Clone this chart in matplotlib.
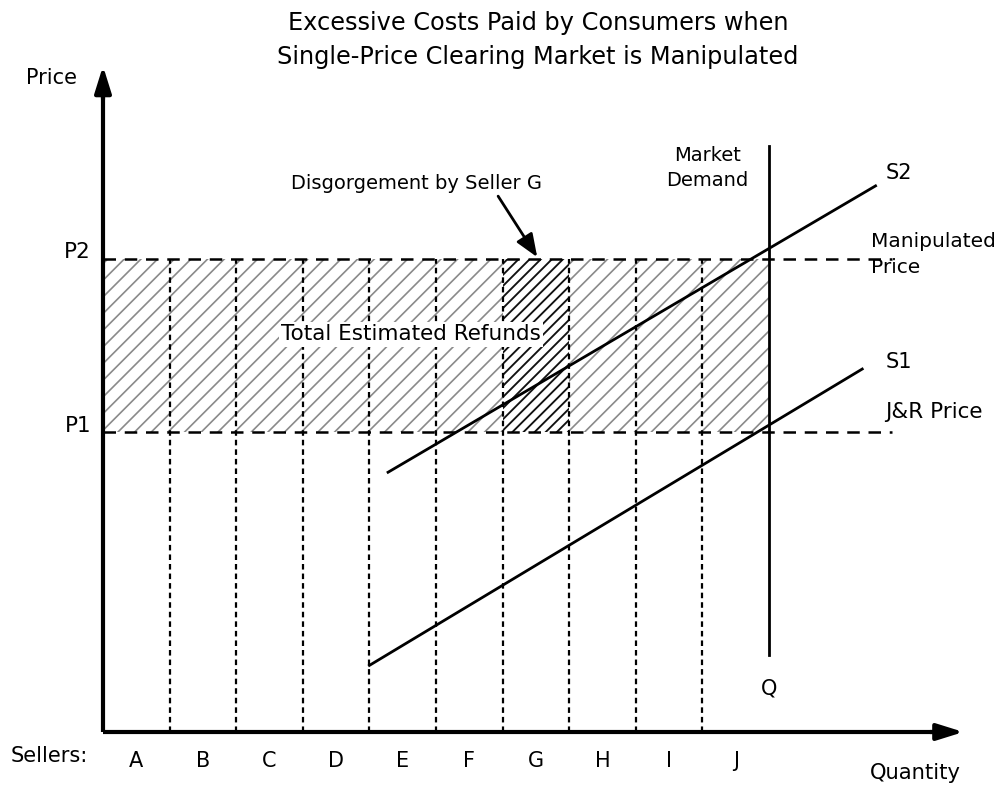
import numpy as np
import matplotlib
matplotlib.use("Agg")
import matplotlib.pyplot as plt
import matplotlib.patches as ptchs

plt.rcParams['font.family'] = ['DejaVu Sans']

# seller blocks along the quantity axis (one unit each)
sellers = ['A', 'B', 'C', 'D', 'E', 'F', 'G', 'H', 'I', 'J']
seller_width = 1.0
target_seller = 'G'

# prices and quantities (in chart units)
p1 = 4.5
p2 = 7.1
q_demand = 10.0
demand_low, demand_high = 1.15, 8.8
price_line_end = 11.85

# supply curves: quantity / price end points
s1_q = [4.0, 11.4]
s1_p = [1.0, 5.45]
s2_q = [4.28, 11.6]
s2_p = [3.9, 8.2]

x_axis_end = 12.92
y_axis_end = 10.0

PX = 66.6  # pixels per unit
W, H = 996, 787
x0_px, y0_px = 103, 732

fig = plt.figure(figsize=(W / 100, H / 100), dpi=100)
ax = fig.add_axes([0, 0, 1, 1])
ax.set_xlim(-x0_px / PX, (W - x0_px) / PX)
ax.set_ylim(-(H - y0_px) / PX, y0_px / PX)
ax.axis('off')

n = len(sellers)
edges = np.arange(n + 1) * seller_width
centers = edges[:-1] + seller_width / 2

# total refunds hatched area
with plt.rc_context({'hatch.linewidth': 1.2}):
    ax.add_patch(ptchs.Rectangle((0, p1), n * seller_width, p2 - p1,
                                 facecolor='white', edgecolor='#8a8a8a',
                                 hatch='//', linewidth=0, zorder=1))
# disgorgement by seller G
gi = sellers.index(target_seller)
with plt.rc_context({'hatch.linewidth': 1.35}):
    ax.add_patch(ptchs.Rectangle((edges[gi], p1), seller_width, p2 - p1,
                                 facecolor='white', edgecolor='#111111',
                                 hatch='///', linewidth=0, zorder=2))

# seller boundaries
for e in edges[1:-1]:
    ax.plot([e, e], [0, p2], color='black', lw=1.6, ls=(0, (2.5, 1.8)), zorder=3)

# price levels
for p in [p1, p2]:
    ax.plot([0, price_line_end], [p, p], color='black', lw=1.8, ls=(0, (5, 3.5)), zorder=3)

# supply curves
ax.plot(s1_q, s1_p, color='black', lw=2, zorder=4)
ax.plot(s2_q, s2_p, color='black', lw=2, zorder=4)

# demand
ax.plot([q_demand, q_demand], [demand_low, demand_high], color='black', lw=2, zorder=4)

# axes with arrows
ax.plot([0, 0], [0, y_axis_end - 0.2], color='black', lw=3, solid_capstyle='butt', zorder=5)
ax.plot([0, x_axis_end - 0.2], [0, 0], color='black', lw=3, solid_capstyle='butt', zorder=5)
ax.annotate('', xy=(0, y_axis_end), xytext=(0, y_axis_end - 0.5),
            arrowprops=dict(arrowstyle='-|>,head_length=1.6,head_width=0.5',
                            color='black', lw=3, shrinkA=0, shrinkB=0), zorder=5)
ax.annotate('', xy=(x_axis_end, 0), xytext=(x_axis_end - 0.5, 0),
            arrowprops=dict(arrowstyle='-|>,head_length=1.6,head_width=0.5',
                            color='black', lw=3, shrinkA=0, shrinkB=0), zorder=5)

fs = 14.5
ax.text(-0.78, 9.82, 'Price', fontsize=15, ha='center', va='center')
ax.text(-0.38, 7.2, 'P2', fontsize=15.5, ha='center', va='center')
ax.text(-0.38, 4.59, 'P1', fontsize=15.5, ha='center', va='center')
ax.text(-0.80, -0.36, 'Sellers:', fontsize=15, ha='center', va='center')
for c, s in zip(centers, sellers):
    ax.text(c, -0.44, s, fontsize=15, ha='center', va='center')
ax.text(12.2, -0.62, 'Quantity', fontsize=15.2, ha='center', va='center')
ax.text(q_demand, 0.65, 'Q', fontsize=15, ha='center', va='center')
ax.text(9.08, 8.47, 'Market\nDemand', fontsize=14, ha='center', va='center',
        linespacing=1.45)
ax.text(11.75, 8.4, 'S2', fontsize=15, ha='left', va='center')
ax.text(11.75, 5.55, 'S1', fontsize=15, ha='left', va='center')
ax.text(11.53, 7.17, 'Manipulated\nPrice', fontsize=fs, ha='left', va='center',
        linespacing=1.5)
ax.text(11.75, 4.8, 'J&R Price', fontsize=15.5, ha='left', va='center')

ax.text(4.62, 5.97, 'Total Estimated Refunds', fontsize=15.5, ha='center', va='center',
        bbox=dict(facecolor='white', edgecolor='none', pad=1.5), zorder=6)

ax.annotate('Disgorgement by Seller G', xy=(edges[gi] + 0.52, p2 + 0.03),
            xytext=(4.7, 8.23), fontsize=14, ha='center', va='center',
            arrowprops=dict(arrowstyle='-|>,head_length=1.0,head_width=0.4',
                            color='black', lw=2,
                            shrinkA=0, shrinkB=0, relpos=(0.82, 0.0)))

fig.text(0.54, 0.949, 'Excessive Costs Paid by Consumers when\n'
         'Single-Price Clearing Market is Manipulated',
         fontsize=17.3, ha='center', va='center', linespacing=1.5)

fig.savefig('out.png', dpi=100)
